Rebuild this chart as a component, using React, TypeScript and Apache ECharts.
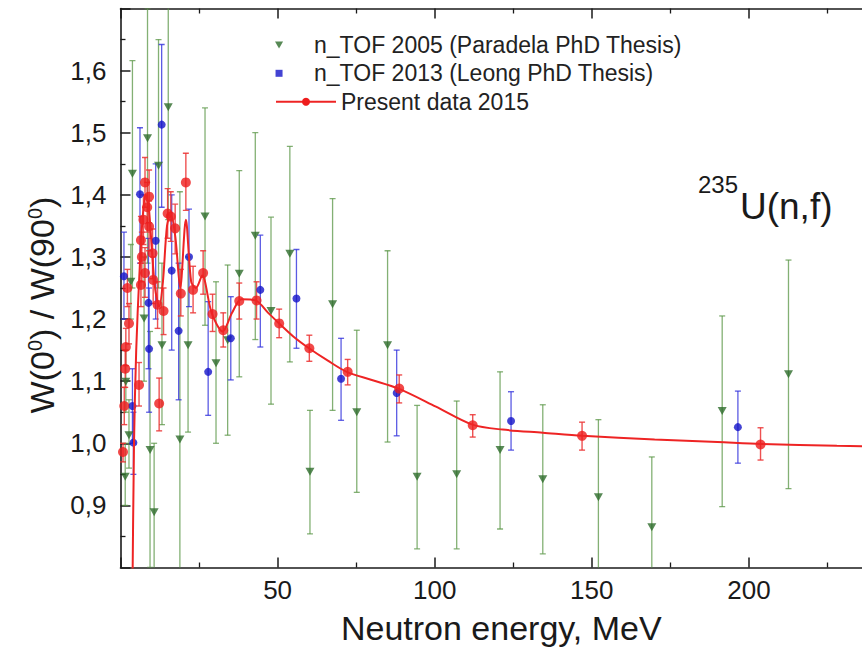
import React, { useEffect, useRef } from 'react';
import * as echarts from 'echarts';

// [energy MeV, ratio, lower error bound, upper error bound]
const paradela2005: number[][] = [
  [1.5, 0.946, 0.9, 1.0],
  [1.7, 1.099, 1.05, 1.15],
  [2.7, 1.013, 0.96, 1.07],
  [3.3, 1.26, 1.2, 1.32],
  [3.8, 1.434, 1.25, 1.616],
  [7.5, 1.201, 1.1, 1.3],
  [8.6, 1.491, 1.29, 1.7],
  [9.4, 0.989, 0.8, 1.18],
  [10.7, 0.889, 0.78, 1.0],
  [12.1, 1.447, 1.25, 1.65],
  [13.2, 1.158, 1.03, 1.29],
  [15.2, 1.541, 1.36, 1.72],
  [18.9, 1.006, 0.6, 1.405],
  [21.5, 1.158, 1.018, 1.3],
  [26.9, 1.365, 1.19, 1.54],
  [30.4, 1.129, 1.0, 1.26],
  [34.1, 1.166, 1.013, 1.287],
  [37.8, 1.273, 1.107, 1.439],
  [42.9, 1.334, 1.167, 1.5],
  [47.9, 1.213, 1.063, 1.364],
  [53.9, 1.305, 1.131, 1.478],
  [60.3, 0.954, 0.854, 1.053],
  [67.5, 1.224, 1.053, 1.394],
  [75.2, 1.05, 0.921, 1.182],
  [85.0, 1.158, 1.002, 1.31],
  [94.4, 0.946, 0.83, 1.061],
  [107.0, 0.95, 0.83, 1.068],
  [120.8, 0.989, 0.862, 1.115],
  [134.4, 0.942, 0.822, 1.062],
  [152.1, 0.913, 0.79, 1.038],
  [169.1, 0.865, 0.75, 0.978],
  [191.5, 1.052, 0.898, 1.205],
  [212.6, 1.111, 0.927, 1.295],
];

const leong2013: number[][] = [
  [1.1, 1.269, 1.2, 1.34],
  [3.8, 1.06, 1.0, 1.12],
  [4.1, 1.001, 0.95, 1.05],
  [6.2, 1.401, 1.29, 1.508],
  [8.9, 1.226, 1.12, 1.33],
  [9.1, 1.152, 1.05, 1.25],
  [11.2, 1.326, 1.2, 1.45],
  [13.1, 1.513, 1.38, 1.642],
  [16.3, 1.278, 1.15, 1.4],
  [18.5, 1.181, 1.07, 1.29],
  [21.8, 1.3, 1.22, 1.377],
  [27.9, 1.115, 1.045, 1.228],
  [35.1, 1.169, 1.102, 1.236],
  [44.5, 1.247, 1.155, 1.335],
  [56.0, 1.233, 1.153, 1.312],
  [70.2, 1.104, 1.037, 1.169],
  [87.9, 1.081, 1.012, 1.15],
  [124.3, 1.036, 0.989, 1.083],
  [196.5, 1.026, 0.968, 1.084],
];

const present2015: number[][] = [
  [0.8, 0.986, 0.97, 1.0],
  [1.2, 1.06, 1.03, 1.09],
  [1.5, 1.12, 1.09, 1.15],
  [1.7, 1.155, 1.125, 1.185],
  [2.2, 1.25, 1.22, 1.28],
  [2.7, 1.193, 1.16, 1.225],
  [5.9, 1.094, 1.06, 1.13],
  [6.5, 1.255, 1.22, 1.29],
  [6.5, 1.327, 1.29, 1.365],
  [6.8, 1.3, 1.26, 1.34],
  [7.3, 1.36, 1.32, 1.4],
  [7.8, 1.42, 1.38, 1.46],
  [7.8, 1.274, 1.235, 1.315],
  [8.5, 1.38, 1.34, 1.42],
  [9.1, 1.397, 1.355, 1.44],
  [9.1, 1.349, 1.31, 1.39],
  [10.2, 1.306, 1.265, 1.345],
  [10.4, 1.263, 1.225, 1.3],
  [11.8, 1.223, 1.185, 1.26],
  [12.3, 1.064, 1.02, 1.105],
  [13.7, 1.213, 1.175, 1.25],
  [15.0, 1.37, 1.33, 1.41],
  [16.0, 1.365, 1.325, 1.405],
  [17.4, 1.346, 1.305, 1.385],
  [19.2, 1.241, 1.205, 1.28],
  [20.8, 1.42, 1.375, 1.467],
  [23.1, 1.247, 1.21, 1.285],
  [26.3, 1.274, 1.24, 1.31],
  [29.3, 1.208, 1.18, 1.24],
  [32.7, 1.182, 1.155, 1.21],
  [37.8, 1.229, 1.2, 1.258],
  [43.3, 1.23, 1.2, 1.26],
  [50.5, 1.193, 1.17, 1.216],
  [60.1, 1.153, 1.132, 1.174],
  [72.3, 1.115, 1.094, 1.135],
  [88.7, 1.088, 1.065, 1.11],
  [112.1, 1.029, 1.01, 1.046],
  [146.9, 1.012, 0.989, 1.034],
  [203.7, 0.998, 0.973, 1.025],
];

const present2015Curve: number[][] = [
  [3.7, 0.7], [4.3, 1.0], [5.0, 1.15], [6.0, 1.27], [7.0, 1.36], [8.0, 1.4],
  [9.0, 1.38], [10.0, 1.31], [11.0, 1.25], [12.3, 1.22], [13.5, 1.26], [14.8, 1.35],
  [16.0, 1.37], [17.5, 1.33], [19.0, 1.25], [20.8, 1.36], [22.5, 1.26], [24.0, 1.25],
  [26.0, 1.27], [29.0, 1.21], [32.5, 1.18], [35.5, 1.21], [38.5, 1.232], [43, 1.23],
  [47, 1.21], [50.5, 1.193], [55, 1.172], [60, 1.153], [66, 1.133], [72, 1.115],
  [80, 1.102], [88.5, 1.088], [100.4, 1.059], [112, 1.03], [121.6, 1.022],
  [134.4, 1.017], [147, 1.012], [170, 1.006], [190, 1.002], [204, 0.999], [228, 0.996],
  [250, 0.994],
];

const NAME_2005 = 'n_TOF 2005 (Paradela PhD Thesis)';
const NAME_2013 = 'n_TOF 2013 (Leong PhD Thesis)';
const NAME_2015 = 'Present data 2015';

const X_RANGE = [0, 250];
const Y_RANGE = [0.8, 1.7];

export default function App() {
  const ref = useRef<HTMLDivElement>(null);

  useEffect(() => {
    const chart = echarts.init(ref.current!, null, { renderer: 'svg' });
    const font = "'Liberation Sans', Arial, Helvetica, sans-serif";
    const ink = '#1a1a1a';

    const errBar = (color: string, cap: number, width: number) => (params: any, api: any) => {
      const x = api.value(0);
      const a = api.coord([x, api.value(1)]);
      const b = api.coord([x, api.value(2)]);
      const st = { stroke: color, lineWidth: width };
      return {
        type: 'group',
        children: [
          { type: 'line', shape: { x1: a[0], y1: a[1], x2: b[0], y2: b[1] }, style: st },
          { type: 'line', shape: { x1: a[0] - cap, y1: a[1], x2: a[0] + cap, y2: a[1] }, style: st },
          { type: 'line', shape: { x1: b[0] - cap, y1: b[1], x2: b[0] + cap, y2: b[1] }, style: st },
        ],
      };
    };

    const axisLine = { show: true, onZero: false, lineStyle: { color: ink, width: 1.6 } };
    const axisTick = { show: true, inside: true, length: 10, lineStyle: { color: ink, width: 1.5 } };
    const minorTick = { show: true, splitNumber: 2, length: 5, lineStyle: { color: ink, width: 1.3 } };

    chart.setOption({
      animation: false,
      backgroundColor: '#ffffff',
      grid: {
        left: 120.5,
        top: 8.5,
        right: -44,
        bottom: 83.5,
        containLabel: false,
        outerBoundsMode: 'none',
      },
      legend: [
        {
          data: [
            { name: NAME_2005, icon: 'path://M0,0L10,0L5,8.66Z' },
            { name: NAME_2013, icon: 'path://M0,0L1,0L1,1L0,1Z' },
          ],
          orient: 'vertical',
          left: 275,
          top: 33.5,
          itemWidth: 60,
          itemHeight: 7,
          itemGap: 5.3,
          padding: 0,
          selectedMode: false,
          textStyle: { fontSize: 23, lineHeight: 23, color: '#222', fontFamily: font },
        },
        {
          data: [NAME_2015],
          orient: 'vertical',
          left: 275,
          top: 90.2,
          itemWidth: 60,
          itemHeight: 10,
          padding: 0,
          selectedMode: false,
          textStyle: { fontSize: 23, lineHeight: 23, color: '#222', fontFamily: font },
        },
      ],
      xAxis: [
        {
          type: 'value',
          position: 'bottom',
          min: X_RANGE[0],
          max: X_RANGE[1],
          interval: 50,
          axisLine,
          axisTick,
          minorTick,
          splitLine: { show: false },
          axisLabel: {
            showMinLabel: false,
            showMaxLabel: false,
            fontSize: 26,
            color: ink,
            fontFamily: font,
            margin: 9,
          },
          name: 'Neutron energy, MeV',
          nameLocation: 'middle',
          nameGap: 43,
          nameTextStyle: { fontSize: 34, color: ink, fontFamily: font, padding: [0, 24, 0, 0] },
        },
        {
          type: 'value',
          position: 'top',
          min: X_RANGE[0],
          max: X_RANGE[1],
          interval: 50,
          axisLine,
          axisTick,
          minorTick,
          splitLine: { show: false },
          axisLabel: { show: false },
        },
      ],
      yAxis: {
        type: 'value',
        min: Y_RANGE[0],
        max: Y_RANGE[1],
        interval: 0.1,
        axisLine,
        axisTick,
        minorTick,
        splitLine: { show: false },
        axisLabel: {
          showMinLabel: false,
          showMaxLabel: false,
          fontSize: 26,
          color: ink,
          fontFamily: font,
          margin: 14,
          formatter: (v: number) => v.toFixed(1).replace('.', ','),
        },
        name: 'W(0{s|0}) / W(90{s|0})',
        nameLocation: 'middle',
        nameGap: 62,
        nameRotate: 90,
        nameTextStyle: {
          fontSize: 34,
          color: ink,
          fontFamily: font,
          padding: [0, 34, 0, 0],
          rich: {
            s: { fontSize: 20, lineHeight: 20, verticalAlign: 'top', color: ink, fontFamily: font },
          },
        },
      },
      graphic: [
        {
          type: 'text',
          left: 740,
          top: 188,
          style: { text: 'U(n,f)', fontSize: 37, fill: ink, fontFamily: font },
        },
        {
          type: 'text',
          right: 862 - 738,
          top: 172,
          style: { text: '235', fontSize: 24, fill: ink, fontFamily: font },
        },
      ],
      series: [
        {
          name: 'err2005',
          type: 'custom',
          renderItem: errBar('rgba(90,150,70,0.75)', 3, 1.3),
          data: paradela2005.map((d) => [d[0], d[2], d[3]]),
          encode: { x: 0, y: [1, 2] },
          clip: true,
          silent: true,
        },
        {
          name: NAME_2005,
          type: 'scatter',
          data: paradela2005.map((d) => [d[0], d[1]]),
          symbol: 'triangle',
          symbolRotate: 180,
          symbolSize: [9, 8],
          itemStyle: { color: '#2d6b2a' },
          clip: true,
        },
        {
          name: 'err2013',
          type: 'custom',
          renderItem: errBar('rgba(50,50,220,0.8)', 3, 1.3),
          data: leong2013.map((d) => [d[0], d[2], d[3]]),
          encode: { x: 0, y: [1, 2] },
          clip: true,
          silent: true,
        },
        {
          name: NAME_2013,
          type: 'scatter',
          data: leong2013.map((d) => [d[0], d[1]]),
          symbol: 'circle',
          symbolSize: 8,
          itemStyle: { color: '#1414c8' },
          clip: true,
        },
        {
          name: 'err2015',
          type: 'custom',
          renderItem: errBar('rgba(235,50,50,0.85)', 3, 1.4),
          data: present2015.map((d) => [d[0], d[2], d[3]]),
          encode: { x: 0, y: [1, 2] },
          clip: true,
          silent: true,
        },
        {
          name: NAME_2015,
          type: 'line',
          data: present2015Curve,
          smooth: 0.3,
          symbol: 'circle',
          symbolSize: 9,
          showSymbol: false,
          lineStyle: { color: '#ee2424', width: 2 },
          itemStyle: { color: '#ee1c1c' },
          clip: true,
        },
        {
          name: NAME_2015,
          type: 'scatter',
          data: present2015.map((d) => [d[0], d[1]]),
          symbol: 'circle',
          symbolSize: 10,
          itemStyle: { color: '#ee1c1c' },
          clip: true,
        },
      ],
    });

    return () => chart.dispose();
  }, []);

  return (
    <div
      ref={ref}
      style={{ position: 'fixed', left: 0, top: 0, width: 862, height: 651, background: '#fff' }}
    />
  );
}
